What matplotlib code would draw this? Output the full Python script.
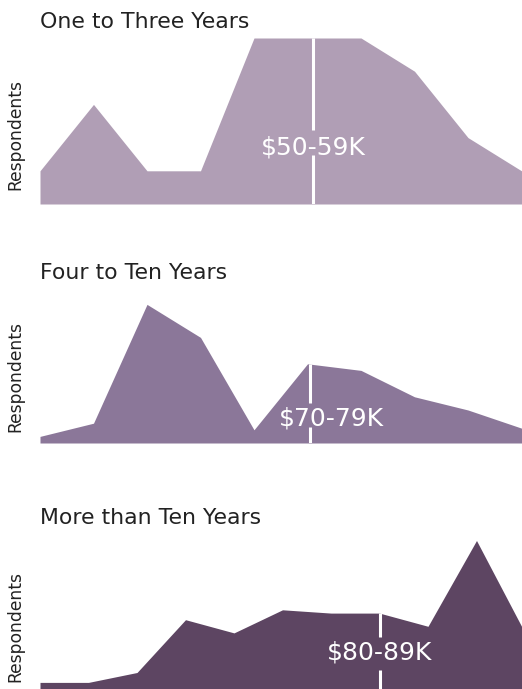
import numpy as np
import matplotlib
matplotlib.use("Agg")
import matplotlib.pyplot as plt

# salary bins (index) vs respondents, per experience group
titles = ["One to Three Years", "Four to Ten Years", "More than Ten Years"]
vals_1 = [1, 3, 1, 1, 5, 5, 5, 4, 2, 1]
vals_2 = [2, 6, 42, 32, 4, 24, 22, 14, 10, 4.5]
vals_3 = [2, 2, 5, 21, 17, 24, 23, 23, 19, 45, 17]
medians = [5.1, 5.05, 7.0]
median_labels = ["$50-59K", "$70-79K", "$80-89K"]
label_x = [5.1, 5.44, 7.0]
colors = ["#b09eb5", "#8b7799", "#5d4562"]

W, H = 522, 689
fig = plt.figure(figsize=(W / 100, H / 100), dpi=100)
plt.rcParams["font.family"] = ["DejaVu Sans"]

# layout in pixels: axes bottom/top, x spacing per bin, ymax, title y, ylabel y,
# label y (axes frac) and the gap in the median line behind the label
panels = [
    dict(vals=vals_1, bottom=204, top=38, dx=53.5, ymax=5, ty=22, ly=134, lab=0.34, gap=(0.295, 0.446)),
    dict(vals=vals_2, bottom=443, top=277, dx=53.5, ymax=50.3, ty=273, ly=377, lab=0.15, gap=(0.096, 0.24)),
    dict(vals=vals_3, bottom=689, top=523, dx=48.5, ymax=50.3, ty=518, ly=626, lab=0.22, gap=(0.114, 0.313)),
]

for i, p in enumerate(panels):
    ax = fig.add_axes([40 / W, 1 - p["bottom"] / H, 482 / W, (p["bottom"] - p["top"]) / H])
    x = np.arange(len(p["vals"]))
    ax.fill_between(x, p["vals"], 0, color=colors[i], lw=0)
    ax.set_xlim(0, 482 / p["dx"])
    ax.set_ylim(0, p["ymax"])
    ax.axis("off")
    m = medians[i]
    ytop = np.interp(m, x, p["vals"])
    g0, g1 = p["gap"][0] * p["ymax"], p["gap"][1] * p["ymax"]
    ax.plot([m, m], [0, g0], color="white", lw=2.2, solid_capstyle="butt")
    ax.plot([m, m], [g1, ytop], color="white", lw=2.2, solid_capstyle="butt")
    ax.text(label_x[i], p["lab"] * p["ymax"], median_labels[i], color="white", fontsize=18,
            ha="center", va="center")
    fig.text(40 / W, 1 - p["ty"] / H, titles[i], fontsize=15.8, color="#222222",
             ha="left", va="center")
    fig.text(15 / W, 1 - p["ly"] / H, "Respondents", fontsize=12.3, color="#222222",
             rotation=90, ha="center", va="center")

fig.savefig("out.png", dpi=100)
